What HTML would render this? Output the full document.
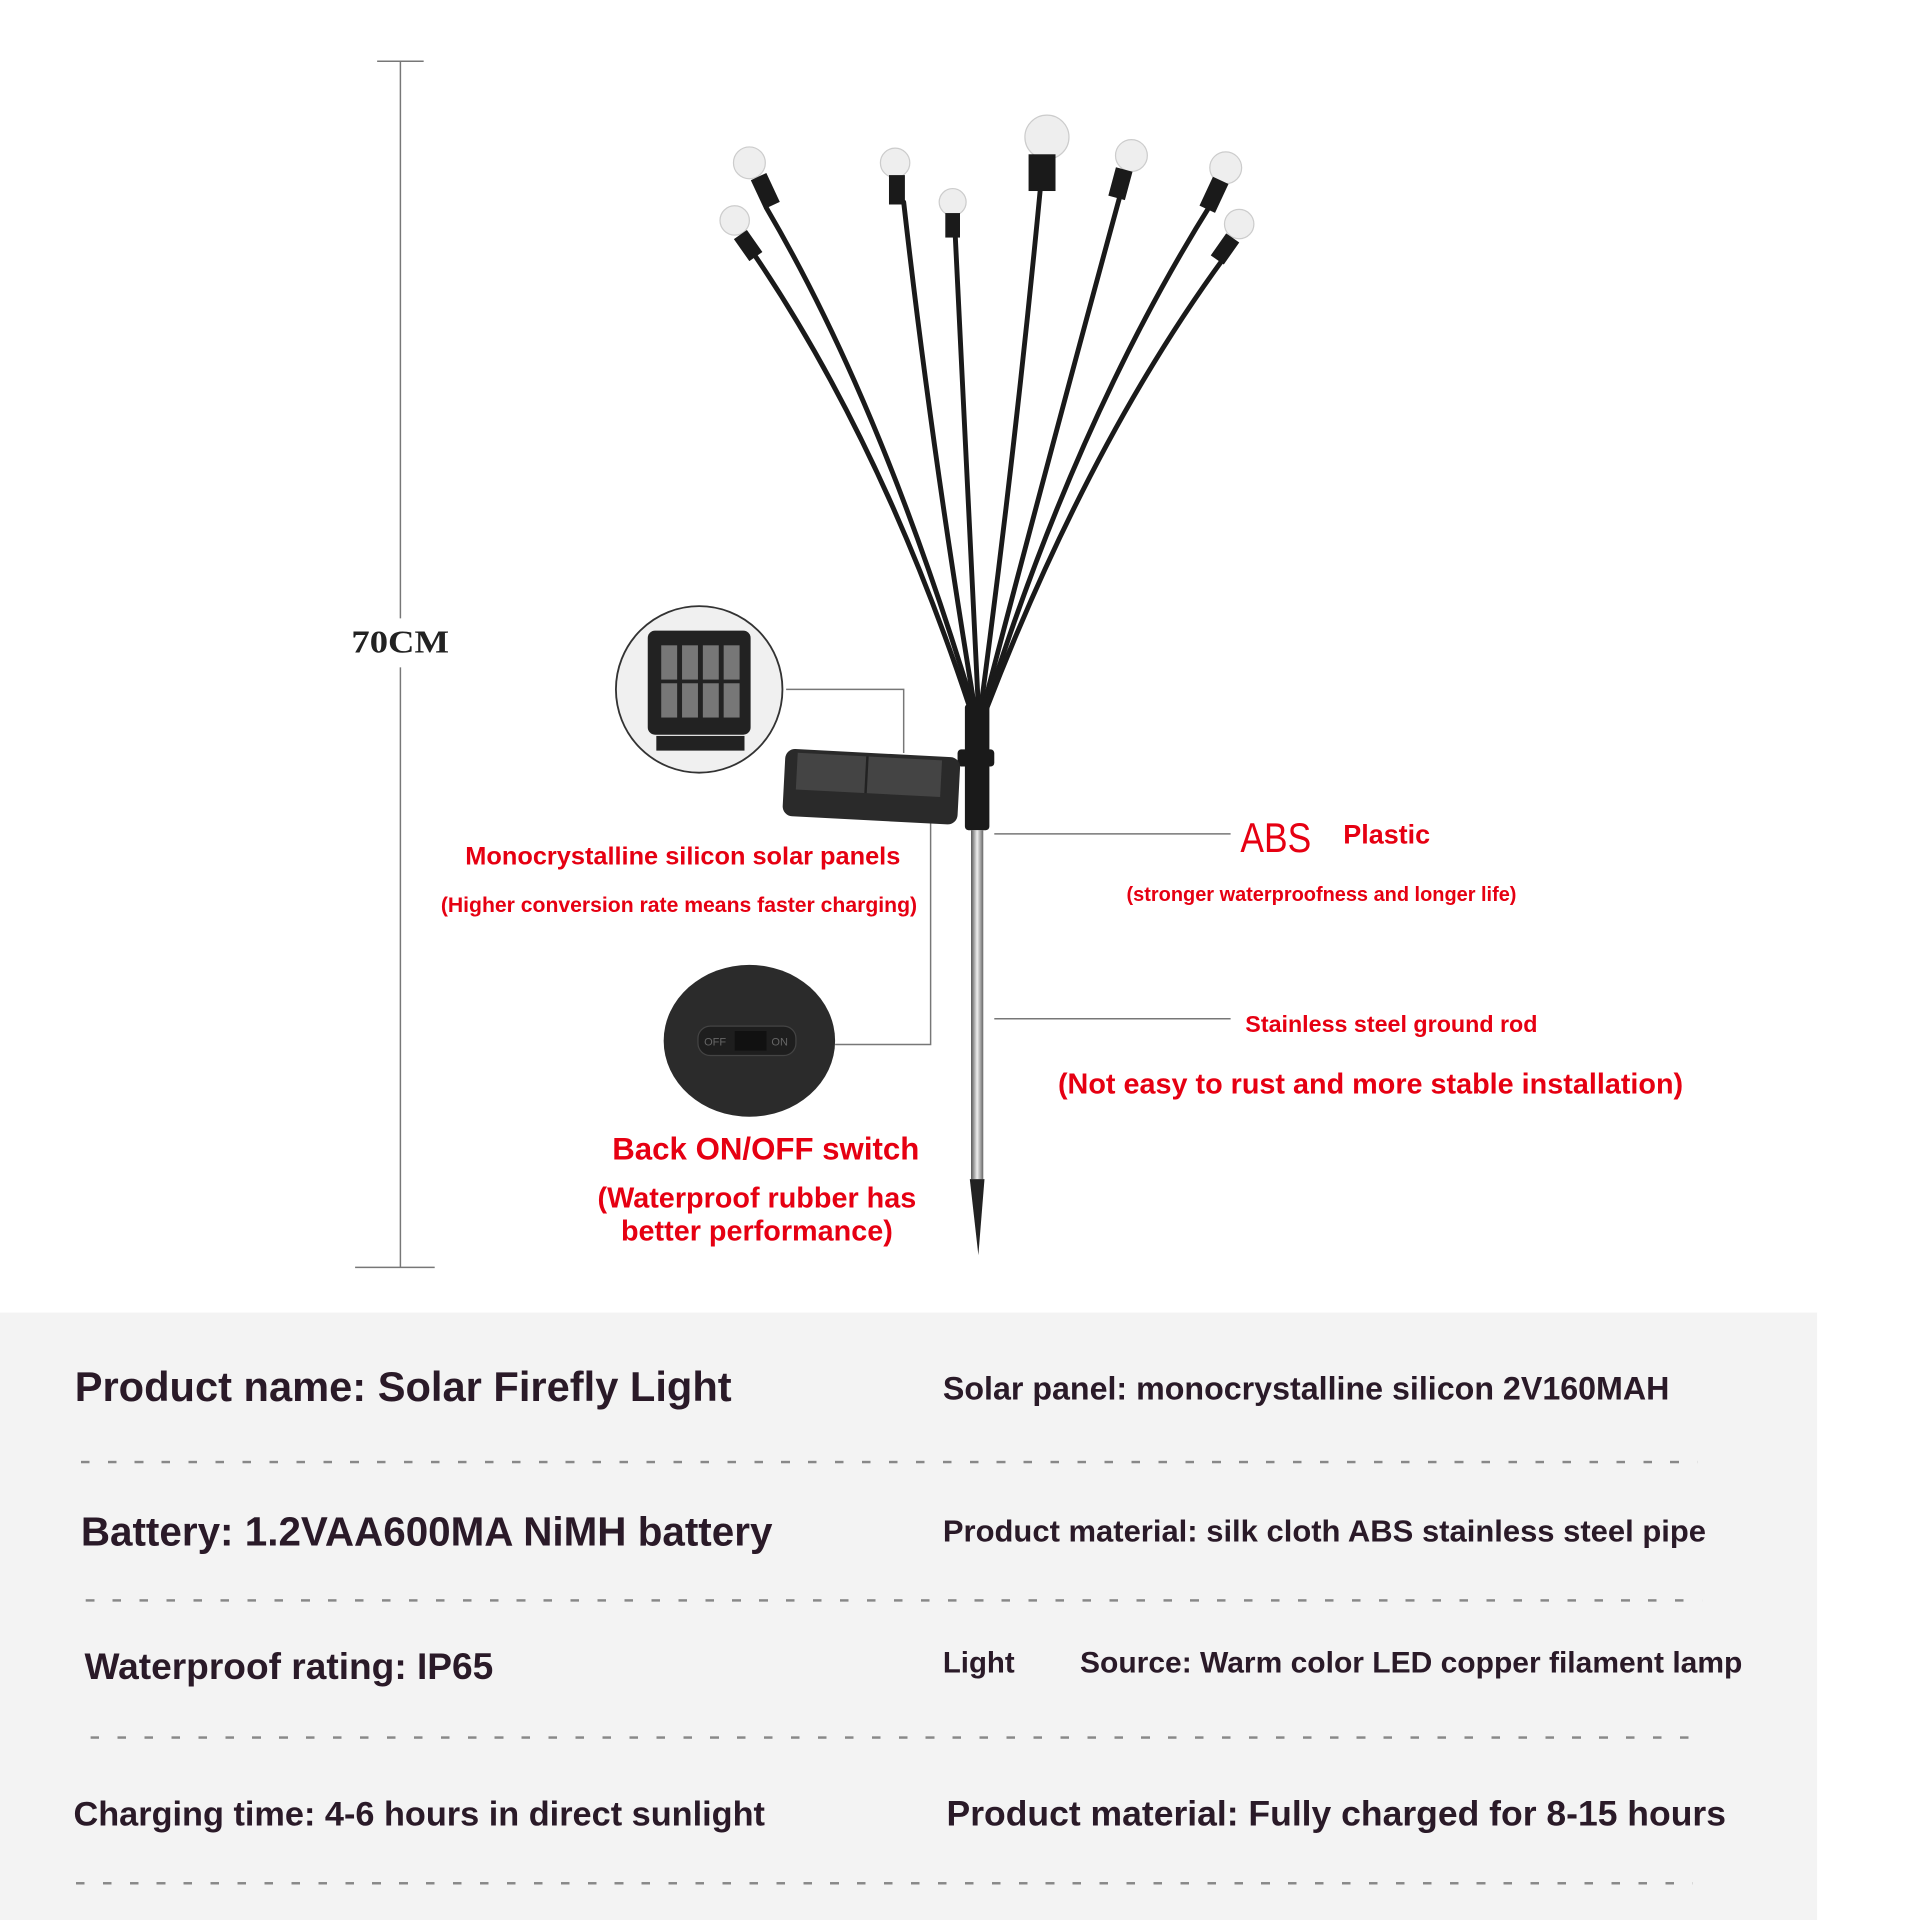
<!DOCTYPE html>
<html><head><meta charset="utf-8"><style>
html,body{margin:0;padding:0;background:#fff;}
body{width:1920px;height:1920px;overflow:hidden;position:relative;}
#c{position:absolute;left:0;top:0;width:1568px;height:1568px;transform:scale(1.22449);transform-origin:0 0;font-family:"Liberation Sans",sans-serif;}
.t{position:absolute;white-space:nowrap;font-weight:bold;}
.r{color:#e60012;}
.k{color:#2a1a28;}
.dash{position:absolute;height:1.5px;background:repeating-linear-gradient(90deg,#888 0 7px,transparent 7px 22px);}
</style></head><body><div id="c">
<div style="position:absolute;left:0;top:1072px;width:1484px;height:496px;background:#f3f3f3"></div>
<svg width="1568" height="1568" style="position:absolute;left:0;top:0">
<g stroke="#777" stroke-width="1.2" fill="none">
<line x1="327" y1="50" x2="327" y2="1035"/>
<line x1="308" y1="50" x2="346" y2="50"/>
<line x1="290" y1="1035" x2="355" y2="1035"/>
<polyline points="642,563 738,563 738,615"/>
<polyline points="682,853 760,853 760,668"/>
<line x1="812" y1="681" x2="1005" y2="681"/>
<line x1="812" y1="832" x2="1005" y2="832"/>
</g>
<rect x="285" y="505" width="90" height="40" fill="#fff"/>
<g stroke="#1a1a1a" stroke-width="4" fill="none" stroke-linecap="round">
<path d="M626,170 Q720,330 795,578"/>
<path d="M614,205 Q720,360 792,578"/>
<path d="M738,165 Q760,360 796,578"/>
<path d="M780,190 Q790,380 799,578"/>
<path d="M850,150 Q830,360 801,578"/>
<path d="M916,155 Q860,360 803,578"/>
<path d="M990,165 Q880,340 805,578"/>
<path d="M1000,210 Q890,360 806,578"/>
</g>
<g fill="#eee" stroke="#ccc" stroke-width="1">
<circle cx="612" cy="133" r="13"/><circle cx="600" cy="180" r="12"/>
<circle cx="731" cy="133" r="12"/><circle cx="778" cy="165" r="11"/>
<circle cx="855" cy="112" r="18"/><circle cx="924" cy="127" r="13"/>
<circle cx="1001" cy="137" r="13"/><circle cx="1012" cy="183" r="12"/>
</g>
<g fill="#1a1a1a">
<rect x="618" y="143" width="14" height="26" transform="rotate(-25 625 156)"/>
<rect x="604" y="190" width="13" height="22" transform="rotate(-35 610 200)"/>
<rect x="726" y="143" width="13" height="24"/>
<rect x="772" y="174" width="12" height="20"/>
<rect x="840" y="126" width="22" height="30"/>
<rect x="908" y="138" width="14" height="24" transform="rotate(15 915 150)"/>
<rect x="984" y="146" width="14" height="26" transform="rotate(25 991 160)"/>
<rect x="994" y="192" width="13" height="22" transform="rotate(35 1000 203)"/>
<rect x="788" y="575" width="20" height="103" rx="3"/>
<rect x="782" y="612" width="30" height="14" rx="3"/>
</g>
<defs><linearGradient id="rod" x1="0" x2="1"><stop offset="0" stop-color="#555"/><stop offset=".5" stop-color="#eee"/><stop offset="1" stop-color="#666"/></linearGradient></defs>
<rect x="793" y="678" width="10" height="285" fill="url(#rod)"/>
<path d="M792,963 L804,963 L799,1025 Z" fill="#222"/>
<g transform="rotate(3 712 645)">
<rect x="640" y="615" width="143" height="55" rx="8" fill="#2a2a2a"/>
<rect x="650" y="618" width="118" height="30" fill="#444"/>
<line x1="707" y1="618" x2="707" y2="648" stroke="#222" stroke-width="2"/>
</g>
<circle cx="571" cy="563" r="68" fill="#f0f0f0" stroke="#333" stroke-width="1.5"/>
<rect x="529" y="515" width="84" height="85" rx="6" fill="#222"/>
<g fill="#777"><rect x="540" y="527" width="13" height="28"/><rect x="557" y="527" width="13" height="28"/><rect x="574" y="527" width="13" height="28"/><rect x="591" y="527" width="13" height="28"/>
<rect x="540" y="558" width="13" height="28"/><rect x="557" y="558" width="13" height="28"/><rect x="574" y="558" width="13" height="28"/><rect x="591" y="558" width="13" height="28"/></g>
<rect x="536" y="601" width="72" height="12" fill="#222"/>
<ellipse cx="612" cy="850" rx="70" ry="62" fill="#2b2b2b"/>
<rect x="570" y="838" width="80" height="24" rx="10" fill="#1e1e1e" stroke="#444"/>
<rect x="600" y="842" width="26" height="16" fill="#111"/>
<text x="575" y="854" font-size="9" fill="#666" font-family="Liberation Sans">OFF</text>
<text x="630" y="854" font-size="9" fill="#666" font-family="Liberation Sans">ON</text>
</svg>
<div class="t" style="left:287px;top:510px;font-family:'Liberation Serif',serif;font-size:26px;color:#222;transform:scaleX(1.15);transform-origin:0 0">70CM</div>
<div class="t r" style="left:380px;top:688px;font-size:20.7px">Monocrystalline silicon solar panels</div>
<div class="t r" style="left:360px;top:729px;font-size:17.3px">(Higher conversion rate means faster charging)</div>
<div class="t r" style="left:1013px;top:666px;font-size:34px;font-weight:normal;transform:scaleX(.85);transform-origin:0 0">ABS</div>
<div class="t r" style="left:1097px;top:669px;font-size:22px">Plastic</div>
<div class="t r" style="left:920px;top:722px;font-size:16.3px">(stronger waterproofness and longer life)</div>
<div class="t r" style="left:1017px;top:827px;font-size:19px">Stainless steel ground rod</div>
<div class="t r" style="left:864px;top:872px;font-size:23.5px">(Not easy to rust and more stable installation)</div>
<div class="t r" style="left:500px;top:925px;font-size:25.5px">Back ON/OFF switch</div>
<div class="t r" style="left:488px;top:965px;font-size:23.5px;text-align:center;line-height:27px">(Waterproof rubber has<br>better performance)</div>
<div class="t k" style="left:61px;top:1114px;font-size:34px">Product name: Solar Firefly Light</div>
<div class="t k" style="left:770px;top:1119px;font-size:26.3px">Solar panel: monocrystalline silicon 2V160MAH</div>
<div class="t k" style="left:66px;top:1232px;font-size:33px">Battery: 1.2VAA600MA NiMH battery</div>
<div class="t k" style="left:770px;top:1237px;font-size:25.3px">Product material: silk cloth ABS stainless steel pipe</div>
<div class="t k" style="left:69px;top:1345px;font-size:30.3px">Waterproof rating: IP65</div>
<div class="t k" style="left:770px;top:1345px;font-size:24px">Light</div>
<div class="t k" style="left:882px;top:1345px;font-size:24.5px">Source: Warm color LED copper filament lamp</div>
<div class="t k" style="left:60px;top:1466px;font-size:28px">Charging time: 4-6 hours in direct sunlight</div>
<div class="t k" style="left:773px;top:1466px;font-size:29px">Product material: Fully charged for 8-15 hours</div>
<div class="dash" style="left:66px;top:1193px;width:1320px"></div>
<div class="dash" style="left:70px;top:1306px;width:1320px"></div>
<div class="dash" style="left:74px;top:1418px;width:1320px"></div>
<div class="dash" style="left:62px;top:1537px;width:1320px"></div>
</div></body></html>
